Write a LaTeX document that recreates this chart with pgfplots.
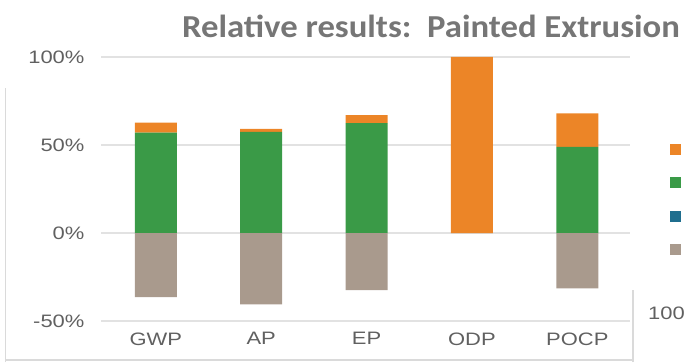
\documentclass[border=0pt]{standalone}
\usepackage{pgfplots}
\pgfplotsset{compat=1.18}
\usepackage{pgfplotstable}
\usepackage{graphicx}
\usepackage{fontspec}
\setmainfont{Liberation Sans}
\newfontfamily\titlefont{Carlito}
\definecolor{cOr}{HTML}{EC8527}
\definecolor{cGr}{HTML}{3A9A47}
\definecolor{cBl}{HTML}{1F6E8E}
\definecolor{cGy}{HTML}{A99A8D}
\definecolor{cTx}{HTML}{606060}
\definecolor{cTitle}{HTML}{767676}
\definecolor{cGrid}{HTML}{E2E2E2}
\definecolor{cFrame}{HTML}{DADADA}
\newcommand\sx[1]{\scalebox{1.22}[1]{#1}}

\pgfplotstableread{
x green orange blue gray
0 57   5.7  0 -36.5
1 57.5 1.6  0 -40.5
2 62.5 4.5  0 -32.5
3 0    100  0 0
4 49   19   0 -31.5
}\datatable

\begin{document}
\begin{tikzpicture}[x=1pt,y=1pt]
\path[use as bounding box] (0,0) rectangle (685,362);
\pgfplotsset{base/.style={
  scale only axis, width=529pt, height=264pt,
  at={(101pt,41pt)}, anchor=south west,
  xmin=-0.52, xmax=4.5, ymin=-50, ymax=100,
  bar width=42pt,
}}
% frame pieces of the screenshot
\draw[cFrame, line width=1.5pt] (5.5,0) -- (5.5,274);
\draw[cFrame, line width=1.2pt] (5,2) -- (633,2);
\draw[cFrame, line width=1.2pt] (633,0) -- (633,72);
\node[anchor=west, text=cTx, font=\fontsize{18}{18}\selectfont, inner sep=0pt] at (648,49) {\sx{100}};
% title
\node[anchor=base, text=cTitle, inner sep=0pt] at (431,324) {\resizebox{498pt}{\height}{\titlefont\bfseries\fontsize{32}{32}\selectfont Relative results:\ \ Painted Extrusion}};

\begin{axis}[base,
  ybar stacked,
  axis line style={draw=none},
  major tick length=0pt,
  ymajorgrids, grid style={cGrid, line width=1.2pt},
  ytick={-50,0,50,100},
  yticklabels={\sx{-50\%},\sx{0\%},\sx{50\%},\sx{100\%}},
  xtick={0,1,2,3,4},
  xticklabels={\sx{GWP},\sx{AP},\sx{EP},\sx{ODP},\sx{POCP}},
  tick label style={font=\fontsize{18}{18}\selectfont, text=cTx},
  yticklabel style={anchor=east, xshift=-13pt},
  xticklabel style={yshift=-8pt},
  legend style={at={(1.0756,0.714)}, anchor=north west, draw=none, fill=none,
    inner sep=0pt, row sep=0pt, font=\fontsize{2}{2}\selectfont,
    nodes={inner sep=0pt}},
  legend image code/.code={\path[fill=none, draw=none] (0pt,-16.75pt) rectangle (11pt,16.75pt);
    \fill[#1] (0pt,-5.5pt) rectangle (11pt,5.5pt);},
]
\addlegendimage{fill=cOr, draw=none}\addlegendentry{\strut}
\addlegendimage{fill=cGr, draw=none}\addlegendentry{\strut}
\addlegendimage{fill=cBl, draw=none}\addlegendentry{\strut}
\addlegendimage{fill=cGy, draw=none}\addlegendentry{\strut}
\addplot[fill=cGr, draw=none, forget plot] table[x=x, y=green] {\datatable};
\addplot[fill=cOr, draw=none, forget plot] table[x=x, y=orange] {\datatable};
\addplot[fill=cBl, draw=none, forget plot] table[x=x, y=blue] {\datatable};
\end{axis}

\begin{axis}[base, ybar, hide axis]
\addplot[fill=cGy, draw=none] table[x=x, y=gray] {\datatable};
\end{axis}
\end{tikzpicture}
\end{document}
